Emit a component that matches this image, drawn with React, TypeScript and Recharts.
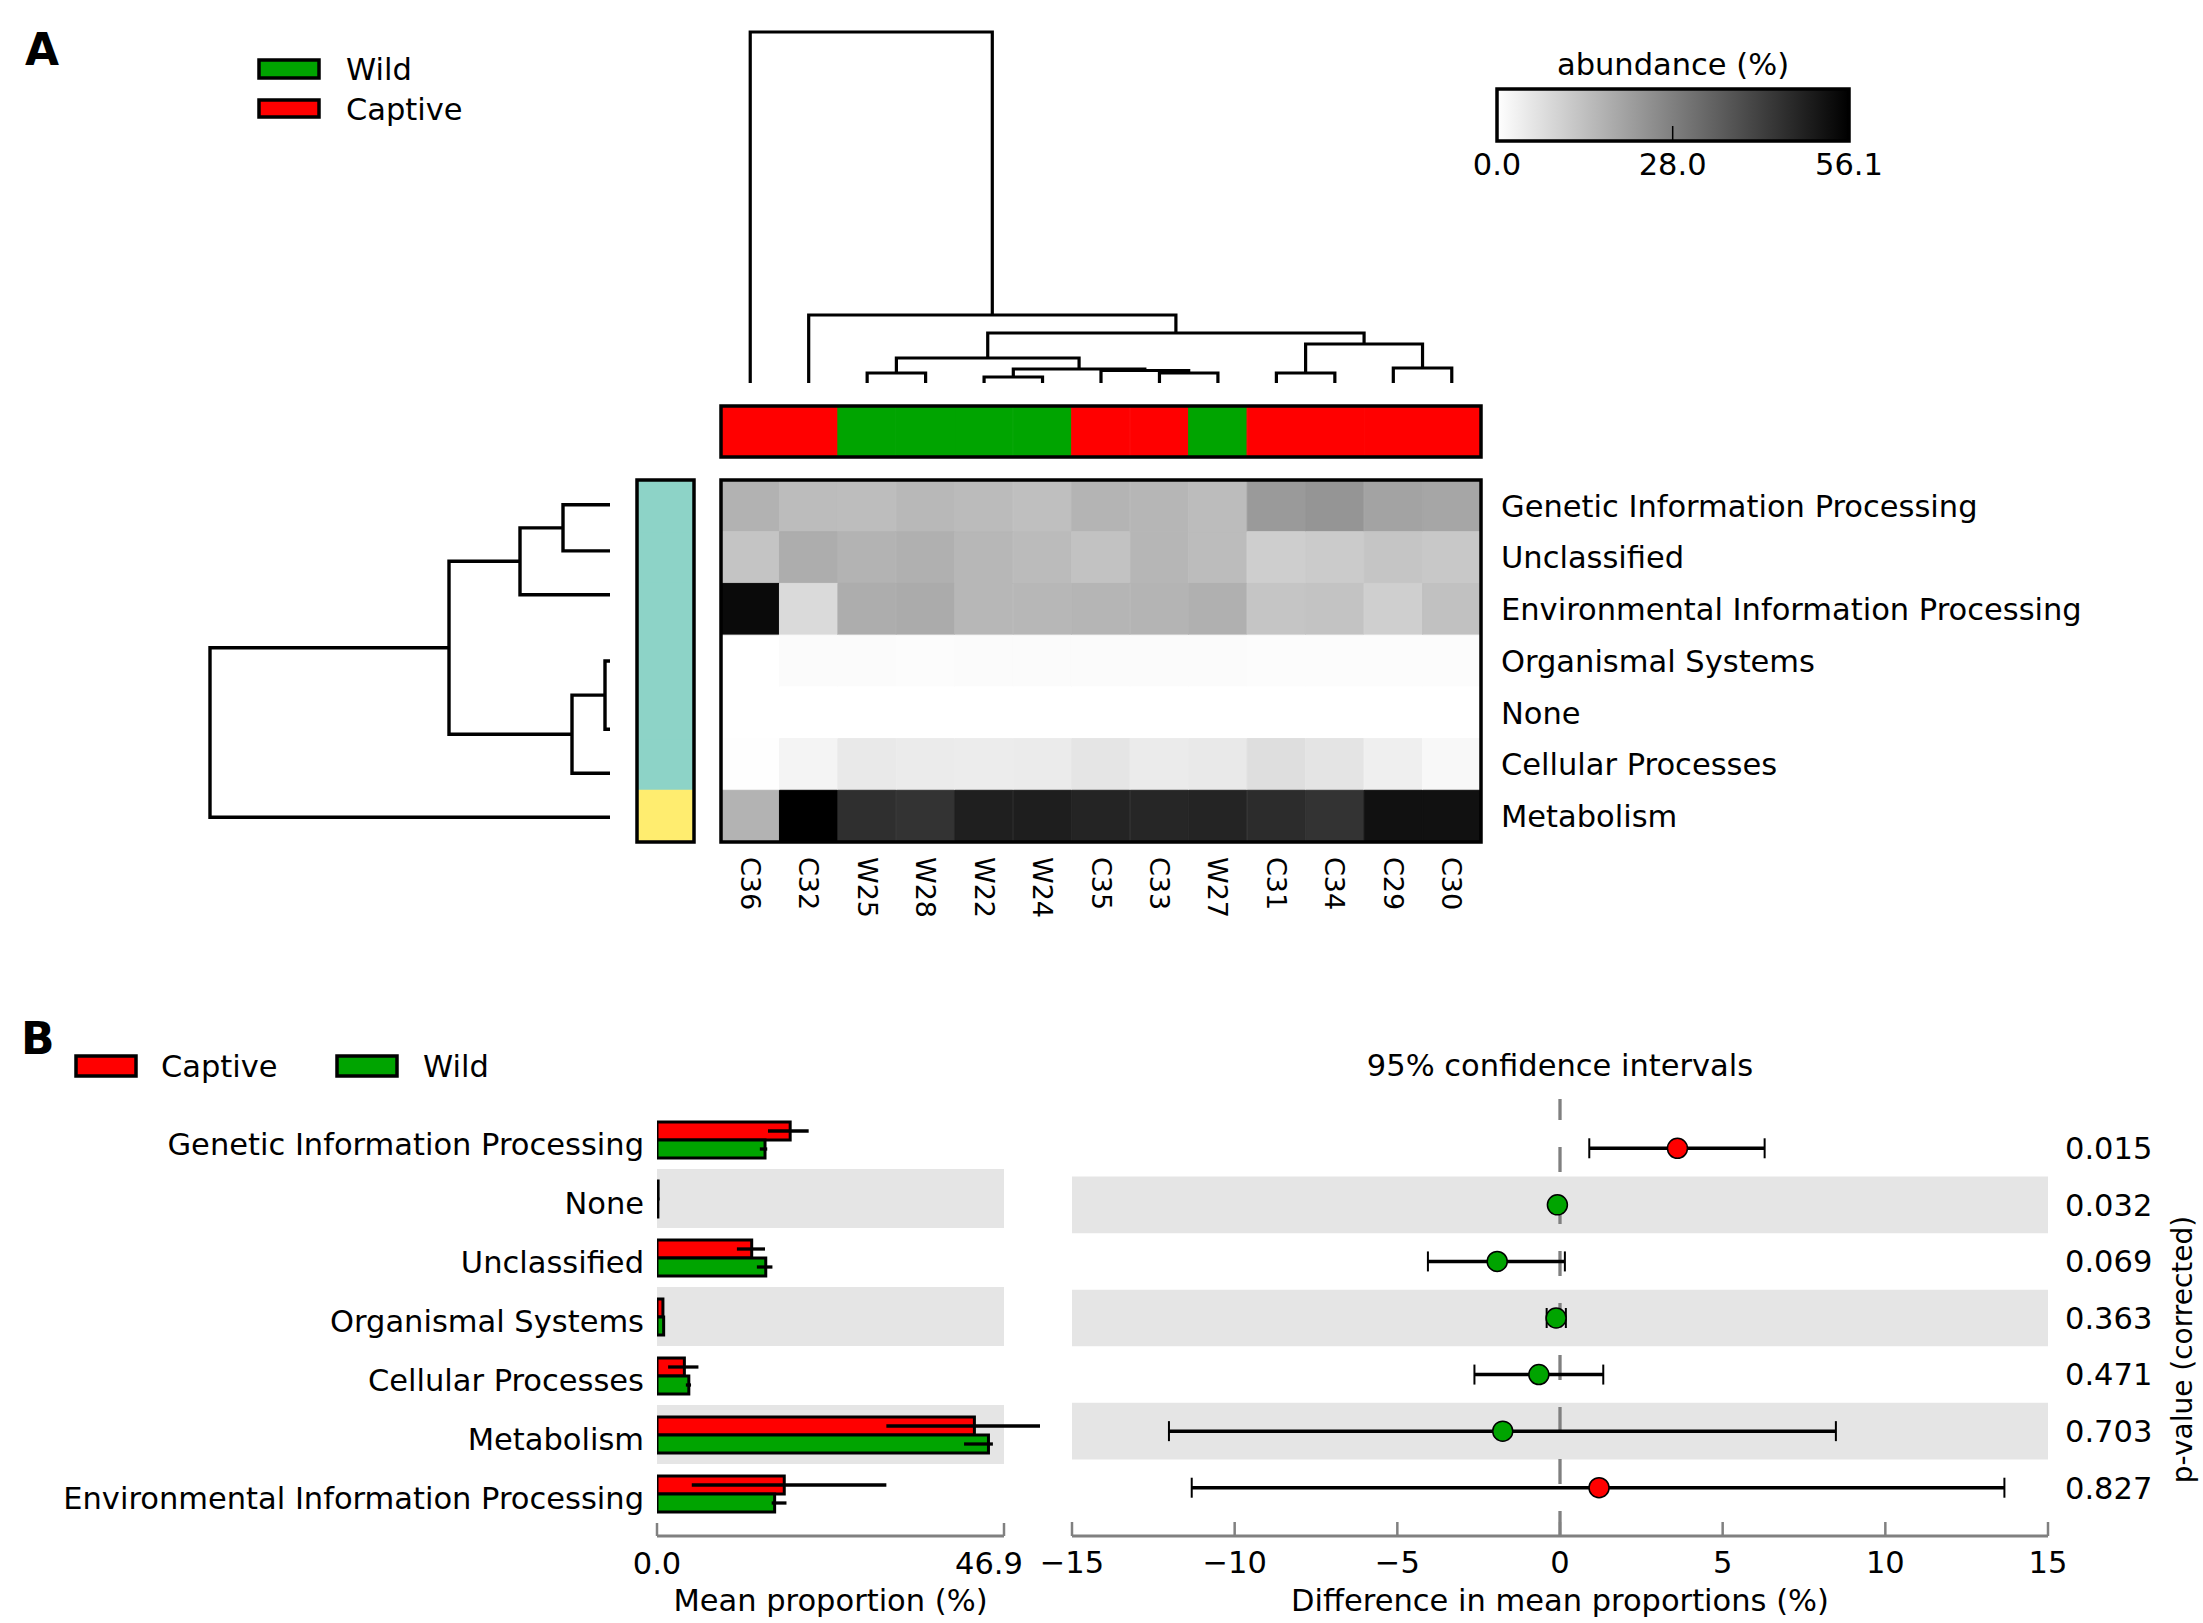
import React from 'react';
import {
  BarChart,
  Bar,
  Cell,
  XAxis,
  YAxis,
  ScatterChart,
  Scatter,
  ErrorBar,
  ReferenceArea,
  ReferenceLine,
} from 'recharts';

const FONT = '"DejaVu Sans", sans-serif';
const FS = 30.5;
const CAPTIVE = '#ff0000';
const WILD = '#00a400';
const BAND = '#e5e5e5';
const AXIS = '#808080';
const MODULE_FILL = ['#8dd3c7', '#ffed6f'];

// ---------- panel A: heatmap ----------
const samples = ['C36', 'C32', 'W25', 'W28', 'W22', 'W24', 'C35', 'C33', 'W27', 'C31', 'C34', 'C29', 'C30'];
const sampleGroups = ['Captive', 'Captive', 'Wild', 'Wild', 'Wild', 'Wild', 'Captive', 'Captive', 'Wild', 'Captive', 'Captive', 'Captive', 'Captive'];
const heatRows = [
  'Genetic Information Processing',
  'Unclassified',
  'Environmental Information Processing',
  'Organismal Systems',
  'None',
  'Cellular Processes',
  'Metabolism',
];
const rowModules = [0, 0, 0, 0, 0, 0, 1];

const genetic = [16.9, 14.7, 14.5, 15.6, 15.0, 14.1, 16.5, 16.1, 14.7, 22.2, 23.3, 20.2, 19.6];
const unclassified = [13.0, 18.0, 16.7, 17.4, 15.8, 15.0, 13.4, 16.1, 14.7, 10.8, 11.5, 12.8, 12.1];
const environmental = [53.9, 8.1, 18.0, 18.5, 15.8, 15.8, 16.3, 16.5, 17.4, 12.7, 13.2, 10.5, 13.6];
const organismal = [0.1, 0.8, 0.8, 0.7, 0.8, 0.8, 0.9, 0.9, 0.8, 0.7, 0.6, 0.7, 0.7];
const noneCat = [0.0, 0.1, 0.1, 0.1, 0.1, 0.1, 0.1, 0.1, 0.1, 0.1, 0.1, 0.1, 0.1];
const cellular = [0.2, 2.4, 4.8, 4.4, 4.2, 4.4, 5.7, 4.4, 4.8, 7.3, 5.9, 3.5, 1.5];
const metabolism = [16.7, 56.1, 45.8, 44.9, 49.3, 49.5, 48.2, 47.8, 48.2, 46.4, 44.9, 52.4, 52.4];
const heatValues = [genetic, unclassified, environmental, organismal, noneCat, cellular, metabolism];

const abundanceMax = 56.1;
const abundanceTicks = [0, 28.0, 56.1];

// merges: [a, b, height]; ids past the leaf count point at earlier merges
const sampleMerges = [
  [2, 3, 10], [4, 5, 6], [7, 8, 10], [6, 15, 12.5], [14, 16, 14], [13, 17, 25],
  [9, 10, 10], [11, 12, 15], [19, 20, 39], [18, 21, 50], [1, 22, 68], [0, 23, 351],
];
const rowMerges = [[0, 1, 47], [7, 2, 90], [3, 4, 5], [9, 5, 38], [8, 10, 161], [11, 6, 400]];
const rowLeafPos = [0.48, 1.37, 2.22, 3.5, 4.82, 5.67, 6.52];

// ---------- panel B: extended error bar ----------
const bRows = [
  'Genetic Information Processing',
  'None',
  'Unclassified',
  'Organismal Systems',
  'Cellular Processes',
  'Metabolism',
  'Environmental Information Processing',
];
const captiveMeans = [18.0, 0.15, 12.8, 0.8, 3.7, 42.9, 17.2];
const captiveLow = [15.0, 0.1, 10.8, 0.7, 1.5, 31.0, 4.7];
const captiveHigh = [20.5, 0.2, 14.6, 0.9, 5.6, 52.5, 31.0];
const wildMeans = [14.6, 0.12, 14.7, 0.9, 4.3, 44.8, 15.9];
const wildLow = [13.9, 0.1, 13.5, 0.8, 3.9, 41.5, 15.5];
const wildHigh = [14.9, 0.15, 15.6, 1.0, 4.6, 45.4, 17.5];
const meanTicks = [0, 46.9];

const diffMeans = [3.61, -0.08, -1.93, -0.12, -0.65, -1.76, 1.2];
const ciLow = [0.9, -0.15, -4.06, -0.41, -2.63, -12.02, -11.32];
const ciHigh = [6.29, -0.01, 0.15, 0.18, 1.33, 8.48, 13.66];
const diffTicks = [-15, -10, -5, 0, 5, 10, 15];
const pValues = ['0.015', '0.032', '0.069', '0.363', '0.471', '0.703', '0.827'];

// plot boxes (page pixels)
const COLBAR = { x: 721, y: 406, w: 760, h: 51 };
const HEAT = { x: 721, y: 480, w: 760, h: 362 };
const ROWBAR = { x: 637, y: 480, w: 57, h: 362 };
const SCALEBAR = { x: 1497, y: 89, w: 352, h: 52 };

const greyOf = (v: number) => {
  const g = Math.round(255 * (1 - v / abundanceMax));
  return `rgb(${g},${g},${g})`;
};

function dendroSegments(merges: number[][], leafPos: number[]) {
  const pos = [...leafPos];
  const hts = leafPos.map(() => 0);
  return merges.map(([a, b, h]) => {
    const seg = [
      { p: pos[a], h: hts[a] },
      { p: pos[a], h },
      { p: pos[b], h },
      { p: pos[b], h: hts[b] },
    ];
    pos.push((pos[a] + pos[b]) / 2);
    hts.push(h);
    return seg;
  });
}

const colSegments = dendroSegments(sampleMerges, samples.map((_, i) => i + 0.5));
const rowSegments = dendroSegments(rowMerges, rowLeafPos);

const heatTable = samples.map((s) => {
  const entry: any = { sample: s };
  heatRows.forEach((_, i) => {
    entry[`r${i}`] = 1;
  });
  return entry;
});
const groupTable = samples.map((s) => ({ sample: s, unit: 1 }));
const moduleTable = heatRows.map((name) => ({ name, unit: 1 }));

const barTable = bRows.map((name, i) => ({
  name,
  captive: captiveMeans[i],
  wild: wildMeans[i],
  captiveErr: [captiveMeans[i] - captiveLow[i], captiveHigh[i] - captiveMeans[i]],
  wildErr: [wildMeans[i] - wildLow[i], wildHigh[i] - wildMeans[i]],
}));
const diffTable = bRows.map((name, i) => ({
  name,
  idx: i,
  diff: diffMeans[i],
  ci: [diffMeans[i] - ciLow[i], ciHigh[i] - diffMeans[i]],
}));

const Place = ({ left, top, children }: any) => (
  <div style={{ position: 'absolute', left, top }}>{children}</div>
);

const noShape = () => <g />;

const ColumnTick = (props: any) => {
  const { x, y, payload } = props;
  return (
    <text x={x} y={y} transform={`rotate(90, ${x}, ${y})`} textAnchor="start" dominantBaseline="central" fontSize={27} fill="#000">
      {payload.value}
    </text>
  );
};

const CategoryTick = (props: any) => {
  const { x, y, payload } = props;
  return (
    <text x={x} y={y} dy={FS * 0.355 + 5} textAnchor="end" fontSize={FS} fill="#000">
      {payload.value}
    </text>
  );
};

const MeanTick = (props: any) => {
  const { x, y, payload, index } = props;
  const dx = index === meanTicks.length - 1 ? -15 : 0;
  return (
    <text x={x + dx} y={y} dy="0.71em" textAnchor="middle" fontSize={FS} fill="#000">
      {Number(payload.value).toFixed(1)}
    </text>
  );
};

const DiffDot = (props: any) => {
  const { cx, cy, payload } = props;
  return <circle cx={cx} cy={cy} r={10} fill={payload.diff > 0 ? CAPTIVE : WILD} stroke="#000" strokeWidth={1.5} />;
};

const PValueTitle = (props: any) => {
  const { viewBox } = props;
  const cx = viewBox.x + 134;
  const cy = viewBox.y + viewBox.height / 2 + 32;
  return (
    <text x={cx} y={cy} transform={`rotate(-90, ${cx}, ${cy})`} textAnchor="middle" dominantBaseline="central" fontSize={28} fill="#000">
      p-value (corrected)
    </text>
  );
};

const fmtSigned = (v: number) => (v < 0 ? `\u2212${-v}` : `${v}`);

const frame = (b: any) => (
  <rect x={b.x} y={b.y} width={b.w} height={b.h} fill="none" stroke="#000" strokeWidth={3.5} />
);

export default function App() {
  return (
    <div
      style={{
        position: 'absolute',
        left: 0,
        top: 0,
        width: 2203,
        height: 1623,
        background: '#fff',
        fontFamily: FONT,
        overflow: 'hidden',
      }}
    >
      {/* column dendrogram */}
      <Place left={700} top={20}>
        <ScatterChart width={800} height={380} margin={{ top: 12, right: 19, bottom: 17, left: 21 }}>
          <XAxis type="number" dataKey="p" domain={[0, samples.length]} hide />
          <YAxis type="number" dataKey="h" domain={[0, 351]} hide />
          {colSegments.map((seg, k) => (
            <Scatter key={k} data={seg} fill="#000" line={{ stroke: '#000', strokeWidth: 3.2 }} shape={noShape} isAnimationActive={false} />
          ))}
        </ScatterChart>
      </Place>

      {/* row dendrogram */}
      <Place left={190} top={470}>
        <ScatterChart width={440} height={382} margin={{ top: 10, right: 20, bottom: 10, left: 20 }}>
          <XAxis type="number" dataKey="h" domain={[0, 400]} reversed hide />
          <YAxis type="number" dataKey="p" domain={[0, heatRows.length]} reversed hide />
          {rowSegments.map((seg, k) => (
            <Scatter key={k} data={seg} fill="#000" line={{ stroke: '#000', strokeWidth: 3.4 }} shape={noShape} isAnimationActive={false} />
          ))}
        </ScatterChart>
      </Place>

      {/* sample group bar */}
      <Place left={700} top={396}>
        <BarChart width={800} height={70} data={groupTable} margin={{ top: 10, right: 19, bottom: 9, left: 21 }} barCategoryGap={0} barGap={0}>
          <XAxis dataKey="sample" hide />
          <YAxis type="number" domain={[0, 1]} hide />
          <Bar dataKey="unit" isAnimationActive={false}>
            {sampleGroups.map((g, j) => {
              const c = g === 'Wild' ? WILD : CAPTIVE;
              return <Cell key={j} fill={c} stroke={c} strokeWidth={1.2} />;
            })}
          </Bar>
        </BarChart>
      </Place>

      {/* heatmap */}
      <Place left={700} top={470}>
        <BarChart width={1420} height={460} data={heatTable} margin={{ top: 10, right: 0, bottom: 8, left: 21 }} barCategoryGap={0} barGap={0}>
          <XAxis dataKey="sample" height={80} axisLine={false} tickLine={false} tickSize={0} tickMargin={15} interval={0} tick={<ColumnTick />} />
          <YAxis
            type="number"
            orientation="right"
            domain={[0, heatRows.length]}
            reversed
            ticks={heatRows.map((_, i) => i + 0.5)}
            interval={0}
            tickFormatter={(v: number) => heatRows[Math.floor(v)]}
            width={639}
            axisLine={false}
            tickLine={false}
            tickSize={0}
            tickMargin={20}
            tick={{ fontSize: FS, fill: '#000' }}
          />
          {heatRows.map((row, i) => (
            <Bar key={row} dataKey={`r${i}`} stackId="heat" isAnimationActive={false}>
              {samples.map((s, j) => {
                const c = greyOf(heatValues[i][j]);
                return <Cell key={s} fill={c} stroke={c} strokeWidth={1} />;
              })}
            </Bar>
          ))}
        </BarChart>
      </Place>

      {/* row module bar */}
      <Place left={627} top={470}>
        <BarChart width={77} height={382} layout="vertical" data={moduleTable} margin={{ top: 10, right: 10, bottom: 10, left: 10 }} barCategoryGap={0}>
          <XAxis type="number" domain={[0, 1]} hide />
          <YAxis type="category" dataKey="name" hide />
          <Bar dataKey="unit" isAnimationActive={false}>
            {rowModules.map((m, i) => (
              <Cell key={i} fill={MODULE_FILL[m]} stroke={MODULE_FILL[m]} strokeWidth={1.2} />
            ))}
          </Bar>
        </BarChart>
      </Place>

      {/* abundance scale */}
      <Place left={1440} top={80}>
        <BarChart width={470} height={110} layout="vertical" data={[{ name: 'abundance', value: abundanceMax }]} margin={{ top: 9, right: 61, bottom: 9, left: 57 }} barCategoryGap={0}>
          <defs>
            <linearGradient id="abundanceGradient" x1="0" y1="0" x2="1" y2="0">
              <stop offset="0%" stopColor="#ffffff" />
              <stop offset="100%" stopColor="#000000" />
            </linearGradient>
          </defs>
          <XAxis
            type="number"
            domain={[0, abundanceMax]}
            ticks={abundanceTicks}
            interval={0}
            tickFormatter={(v: number) => v.toFixed(1)}
            height={40}
            axisLine={false}
            tickSize={-15}
            tickMargin={27}
            tickLine={{ stroke: '#000', strokeWidth: 1.5 }}
            tick={{ fontSize: FS, fill: '#000' }}
          />
          <YAxis type="category" dataKey="name" hide />
          <Bar dataKey="value" fill="url(#abundanceGradient)" isAnimationActive={false} />
        </BarChart>
      </Place>

      {/* panel B left: mean proportions */}
      <Place left={0} top={1080}>
        <BarChart width={1040} height={543} layout="vertical" data={barTable} margin={{ top: 19, right: 36, bottom: 12, left: 0 }} barCategoryGap={12} barGap={0}>
          <XAxis
            type="number"
            domain={[0, 46.9]}
            allowDataOverflow
            ticks={meanTicks}
            interval={0}
            height={75}
            tickSize={-13}
            tickMargin={29}
            axisLine={{ stroke: AXIS, strokeWidth: 3 }}
            tickLine={{ stroke: AXIS, strokeWidth: 2.5 }}
            tick={<MeanTick />}
            label={{ value: 'Mean proportion (%)', position: 'insideBottom', offset: 0, fontSize: FS, fill: '#000' }}
          />
          <YAxis
            type="category"
            dataKey="name"
            width={657}
            padding={{ top: 11, bottom: 13 }}
            axisLine={false}
            tickLine={false}
            tickSize={0}
            tickMargin={13}
            interval={0}
            tick={<CategoryTick />}
          />
          {bRows.map((name, i) =>
            i % 2 === 1 ? <ReferenceArea key={name} y1={name} y2={name} fill={BAND} fillOpacity={1} stroke="none" /> : null
          )}
          <Bar dataKey="captive" fill={CAPTIVE} stroke="#000" strokeWidth={3} isAnimationActive={false}>
            <ErrorBar dataKey="captiveErr" direction="x" width={0} stroke="#000" strokeWidth={3.3} />
          </Bar>
          <Bar dataKey="wild" fill={WILD} stroke="#000" strokeWidth={3} isAnimationActive={false}>
            <ErrorBar dataKey="wildErr" direction="x" width={0} stroke="#000" strokeWidth={3.3} />
          </Bar>
        </BarChart>
      </Place>

      {/* panel B right: difference with 95% CI */}
      <Place left={1040} top={1000}>
        <ScatterChart width={1163} height={623} margin={{ top: 99, right: 5, bottom: 12, left: 32 }}>
          <XAxis
            type="number"
            dataKey="diff"
            domain={[-15, 15]}
            ticks={diffTicks}
            interval={0}
            tickFormatter={fmtSigned}
            height={75}
            tickSize={-14}
            tickMargin={29}
            axisLine={{ stroke: AXIS, strokeWidth: 3 }}
            tickLine={{ stroke: AXIS, strokeWidth: 2.5 }}
            tick={{ fontSize: FS, fill: '#000' }}
            label={{ value: 'Difference in mean proportions (%)', position: 'insideBottom', offset: 0, fontSize: FS, fill: '#000' }}
          />
          <YAxis
            type="number"
            dataKey="idx"
            orientation="right"
            domain={[-0.5, bRows.length - 0.5]}
            reversed
            padding={{ top: 21, bottom: 20 }}
            ticks={bRows.map((_, i) => i)}
            interval={0}
            tickFormatter={(v: number) => pValues[v]}
            width={150}
            axisLine={false}
            tickLine={false}
            tickSize={0}
            tickMargin={17}
            tick={{ fontSize: FS, fill: '#000' }}
            label={PValueTitle}
          />
          {bRows.map((name, i) =>
            i % 2 === 1 ? <ReferenceArea key={name} y1={i - 0.5} y2={i + 0.5} fill={BAND} fillOpacity={1} stroke="none" /> : null
          )}
          <ReferenceLine
            x={0}
            stroke={AXIS}
            strokeWidth={3.3}
            strokeDasharray="25 27"
            label={{ value: '95% confidence intervals', position: 'top', offset: 23, fontSize: FS, fill: '#000' }}
          />
          <Scatter data={diffTable} shape={<DiffDot />} isAnimationActive={false}>
            <ErrorBar dataKey="ci" direction="x" width={0} stroke="#000" strokeWidth={3.5} />
            <ErrorBar dataKey="ci" direction="x" width={10} stroke="#000" strokeWidth={2} />
          </Scatter>
        </ScatterChart>
      </Place>

      {/* annotations: panel letters, legends, frames */}
      <svg width={2203} height={1623} style={{ position: 'absolute', left: 0, top: 0, pointerEvents: 'none' }}>
        <text x={25} y={65} fontSize={44} fontWeight="bold" fill="#000">A</text>
        <text x={21} y={1054} fontSize={44} fontWeight="bold" fill="#000">B</text>

        <rect x={259} y={60} width={60} height={18} fill={WILD} stroke="#000" strokeWidth={3.5} />
        <text x={346} y={80} fontSize={FS} fill="#000">Wild</text>
        <rect x={259} y={100} width={60} height={17} fill={CAPTIVE} stroke="#000" strokeWidth={3.5} />
        <text x={346} y={120} fontSize={FS} fill="#000">Captive</text>

        <rect x={76} y={1056} width={60} height={20} fill={CAPTIVE} stroke="#000" strokeWidth={3.5} />
        <text x={161} y={1077} fontSize={FS} fill="#000">Captive</text>
        <rect x={337} y={1056} width={60} height={20} fill={WILD} stroke="#000" strokeWidth={3.5} />
        <text x={423} y={1077} fontSize={FS} fill="#000">Wild</text>

        <text x={SCALEBAR.x + SCALEBAR.w / 2} y={75} fontSize={FS} textAnchor="middle" fill="#000">abundance (%)</text>

        {frame(COLBAR)}
        {frame(HEAT)}
        {frame(ROWBAR)}
        {frame(SCALEBAR)}
      </svg>
    </div>
  );
}
